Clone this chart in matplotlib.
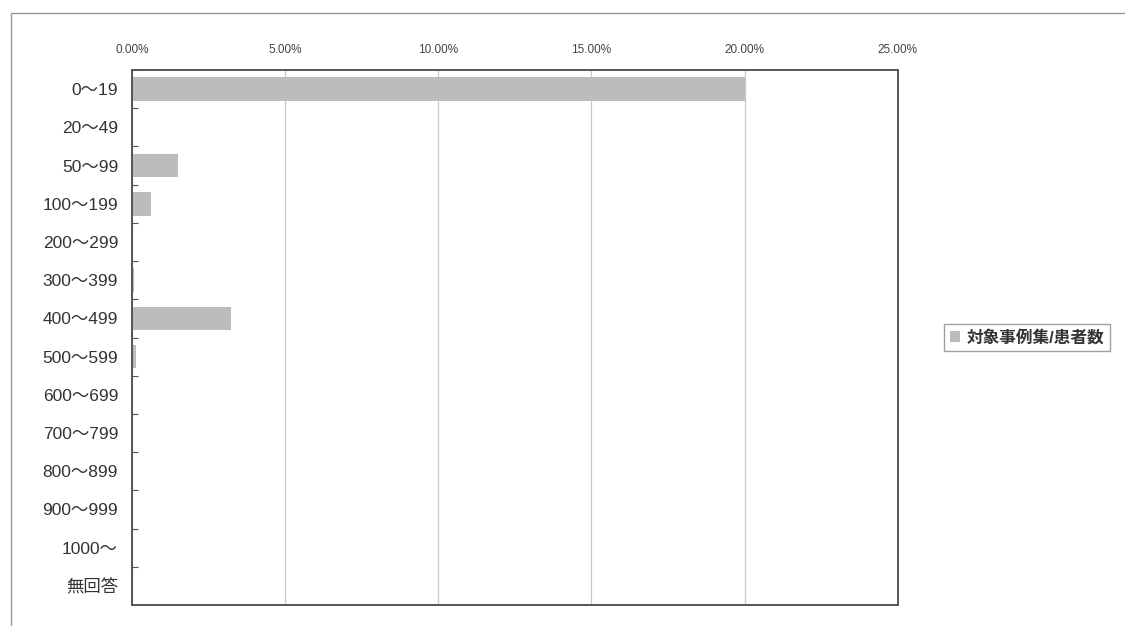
import numpy as np
from matplotlib import pyplot as plt
from matplotlib.patches import Rectangle
from matplotlib.ticker import FuncFormatter

plt.rcParams['font.family'] = ['Liberation Sans', 'Noto Sans CJK JP', 'DejaVu Sans']

categories = ["0～19", "20～49", "50～99", "100～199", "200～299", "300～399",
              "400～499", "500～599", "600～699", "700～799", "800～899",
              "900～999", "1000～", "無回答"]
values = [20.0, 0.0, 1.51, 0.63, 0.0, 0.07, 3.22, 0.12, 0.0, 0.0, 0.0, 0.0, 0.0, 0.0]
series_name = "対象事例集/患者数"

fig = plt.figure(figsize=(11.25, 6.26), dpi=100)
ax = fig.add_axes([0.1173, 0.0335, 0.6807, 0.8547])

pos = np.arange(len(categories))
ax.barh(pos, values, height=0.62, color="#bcbcbc", label=series_name, zorder=2)

ax.set_xlim(0, 25)
ax.set_ylim(len(categories) - 0.5, -0.5)

# x axis on top, percent labels
ax.xaxis.tick_top()
ax.set_xticks([0, 5, 10, 15, 20, 25])
ax.xaxis.set_major_formatter(FuncFormatter(lambda v, p: f"{v:.2f}%"))
ax.tick_params(axis="x", length=0, labelsize=8.5, labelcolor="#444444", pad=10)
ax.grid(axis="x", color="#c8c8c8", linewidth=0.9, zorder=0)

# category ticks between bars, labels centred
ax.set_yticks(np.arange(-0.5, len(categories) - 0.4, 1.0))
ax.set_yticklabels([])
ax.tick_params(axis="y", which="major", direction="in", length=4, color="#555555")
ax.set_yticks(pos, minor=True)
ax.set_yticklabels(categories, minor=True)
ax.tick_params(axis="y", which="minor", length=0, labelsize=12.5,
               labelcolor="#333333", pad=10)

for s in ax.spines.values():
    s.set_color("#555555")
    s.set_linewidth(1.4)

leg = ax.legend(loc="center left", bbox_to_anchor=(1.05, 0.5), fontsize=12,
                frameon=True, fancybox=False, edgecolor="#888888",
                handlelength=0.6, handleheight=0.6, handletextpad=0.4,
                borderpad=0.35)
leg.get_frame().set_linewidth(1.0)
for t in leg.get_texts():
    t.set_color("#333333")
    t.set_fontweight("bold")

# outer chart border (top and left edges visible)
fig.patches.append(Rectangle((11 / 1125, -0.05), 1.1, 1.05 - 13 / 626,
                             transform=fig.transFigure, fill=False,
                             edgecolor="#999999", linewidth=1.0))

fig.savefig("out.png", dpi=100)
